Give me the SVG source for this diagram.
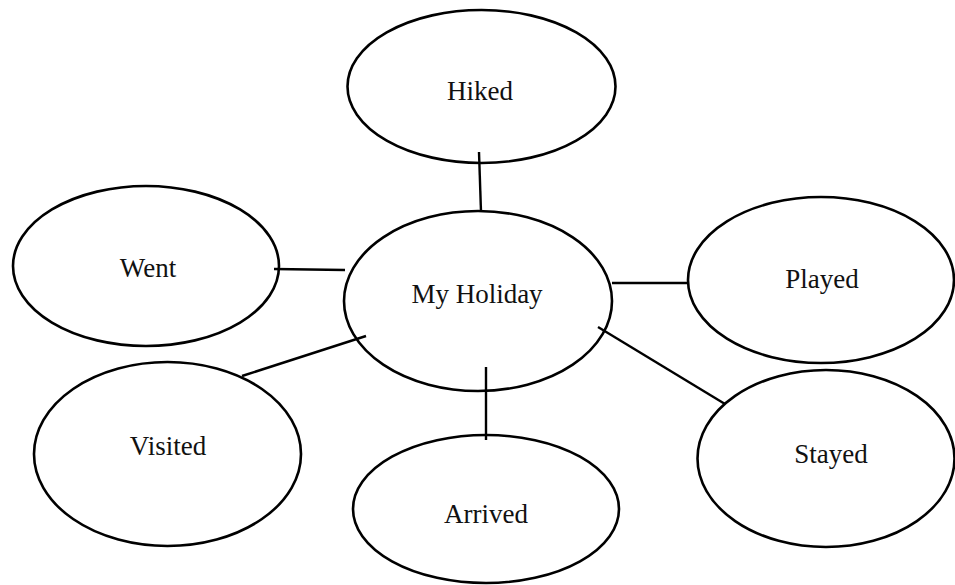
<svg xmlns="http://www.w3.org/2000/svg" width="955" height="585" viewBox="0 0 955 585">
<style>
.n ellipse{fill:#fff;stroke:#000;stroke-width:2.6}
.n text{font-family:"Liberation Serif","Times New Roman",serif;font-size:27px;fill:#111;text-anchor:middle}
.c line{stroke:#000;stroke-width:2.4}
</style>
<rect width="955" height="585" fill="#fff"/>
<g id="hiked" class="n"><ellipse cx="481.5" cy="86.5" rx="134" ry="76.5"/><text x="480" y="100">Hiked</text></g>
<g id="went" class="n"><ellipse cx="146" cy="266" rx="133" ry="80"/><text x="148" y="277">Went</text></g>
<g id="myholiday" class="n"><ellipse cx="478" cy="301" rx="134" ry="90"/><text x="477" y="303">My Holiday</text></g>
<g id="played" class="n"><ellipse cx="821" cy="280" rx="133" ry="83"/><text x="822" y="288">Played</text></g>
<g id="visited" class="n"><ellipse cx="167.5" cy="454" rx="133.5" ry="92"/><text x="168" y="455">Visited</text></g>
<g id="arrived" class="n"><ellipse cx="486" cy="509" rx="133" ry="74"/><text x="486" y="523">Arrived</text></g>
<g id="stayed" class="n"><ellipse cx="826" cy="458.5" rx="128.5" ry="88.5"/><text x="831" y="463">Stayed</text></g>
<g id="connectors" class="c">
<line x1="479" y1="152" x2="481" y2="212"/>
<line x1="274" y1="269" x2="345" y2="270"/>
<line x1="612" y1="283" x2="688" y2="283"/>
<line x1="598" y1="327" x2="725" y2="404"/>
<line x1="366" y1="336" x2="242" y2="376"/>
<line x1="486" y1="367" x2="486" y2="440"/>
</g>
</svg>
